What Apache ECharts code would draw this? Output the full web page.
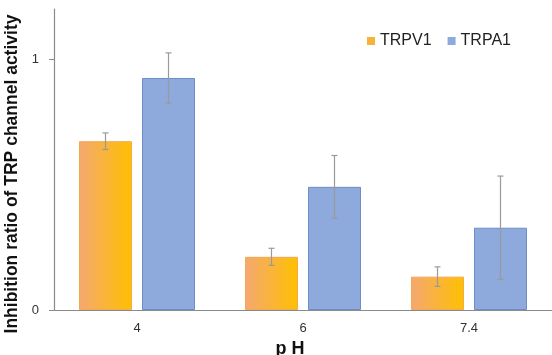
<!DOCTYPE html>
<html>
<head>
<meta charset="utf-8">
<script src="https://cdn.jsdelivr.net/npm/echarts@6/dist/echarts.min.js"></script>
<style>
html,body{margin:0;padding:0;background:#fff;}
#chart{width:552px;height:355px;}
</style>
</head>
<body>
<div id="chart"></div>
<script>
var categories = ['4', '6', '7.4'];
var trpv1 = [0.673, 0.212, 0.133];
var trpv1Err = [0.033, 0.034, 0.039];
var trpa1 = [0.925, 0.491, 0.328];
var trpa1Err = [0.100, 0.125, 0.206];
var yTickLabels = [0, 1];

var BAR_W = 53, BAR_GAP = 10;
var FONT = '"Liberation Sans", Arial, sans-serif';

function errSeries(name, vals, errs, sign) {
  var data = vals.map(function (v, i) { return [i, v, v - errs[i], v + errs[i]]; });
  return {
    type: 'custom',
    name: name + ' err',
    z: 10,
    silent: true,
    data: data,
    encode: { x: 0, y: [2, 3] },
    renderItem: function (params, api) {
      var idx = api.value(0);
      var lo = api.coord([idx, api.value(2)]);
      var hi = api.coord([idx, api.value(3)]);
      var off = sign * (BAR_W + BAR_GAP) / 2;
      var x = lo[0] + off;
      var cap = 3;
      var st = { stroke: '#9a9a9a', lineWidth: 1.2 };
      return {
        type: 'group',
        children: [
          { type: 'line', shape: { x1: x, y1: lo[1], x2: x, y2: hi[1] }, style: st },
          { type: 'line', shape: { x1: x - cap, y1: lo[1], x2: x + cap, y2: lo[1] }, style: st },
          { type: 'line', shape: { x1: x - cap, y1: hi[1], x2: x + cap, y2: hi[1] }, style: st }
        ]
      };
    }
  };
}

var chart = echarts.init(document.getElementById('chart'));
chart.setOption({
  animation: false,
  grid: { left: 54, right: 0, top: 9, bottom: 45, containLabel: false, outerBoundsMode: 'none' },
  legend: {
    top: 28, left: 362,
    itemWidth: 8, itemHeight: 8, itemGap: 16,
    icon: 'rect',
    textStyle: { fontFamily: FONT, fontSize: 16, color: '#222', padding: [0, 0, 0, 0] },
    data: [
      { name: 'TRPV1', itemStyle: { color: '#F8B23C', borderWidth: 0 } },
      { name: 'TRPA1', itemStyle: { color: '#8EA9DB', borderWidth: 0 } }
    ]
  },
  xAxis: {
    type: 'category',
    data: categories,
    name: 'p H',
    nameLocation: 'middle',
    nameGap: 21,
    nameTextStyle: { fontFamily: FONT, fontSize: 18, fontWeight: 'bold', color: '#111', padding: [0, 26, 0, 0] },
    axisLine: { lineStyle: { color: '#8a8a8a', width: 1.2 } },
    axisTick: { show: false },
    axisLabel: { fontFamily: FONT, fontSize: 13, color: '#333', margin: 12 }
  },
  yAxis: {
    type: 'value',
    min: 0, max: 1.2,
    name: 'Inhibition ratio of TRP channel activity',
    nameLocation: 'middle',
    nameGap: 22,
    nameTextStyle: { fontFamily: FONT, fontSize: 17.5, fontWeight: 'bold', color: '#111', padding: [0, 29, 0, 0] },
    splitLine: { show: false },
    axisLine: { show: true, lineStyle: { color: '#8a8a8a', width: 1.2 } },
    axisTick: { show: true, length: 5, customValues: yTickLabels, lineStyle: { color: '#8a8a8a' } },
    axisLabel: { fontFamily: FONT, fontSize: 13, color: '#333', margin: 15, customValues: yTickLabels }
  },
  series: [
    {
      name: 'TRPV1', type: 'bar', data: trpv1,
      barWidth: BAR_W, barGap: (BAR_GAP / BAR_W * 100) + '%',
      itemStyle: {
        color: new echarts.graphic.LinearGradient(0, 0, 1, 0, [
          { offset: 0, color: '#F4A872' },
          { offset: 1, color: '#FFC000' }
        ]),
        borderColor: '#F2A950', borderWidth: 1
      }
    },
    {
      name: 'TRPA1', type: 'bar', data: trpa1,
      barWidth: BAR_W,
      itemStyle: { color: '#8EA9DB', borderColor: '#6E8DC6', borderWidth: 1 }
    },
    errSeries('TRPV1', trpv1, trpv1Err, -1),
    errSeries('TRPA1', trpa1, trpa1Err, 1)
  ]
});
</script>
</body>
</html>
